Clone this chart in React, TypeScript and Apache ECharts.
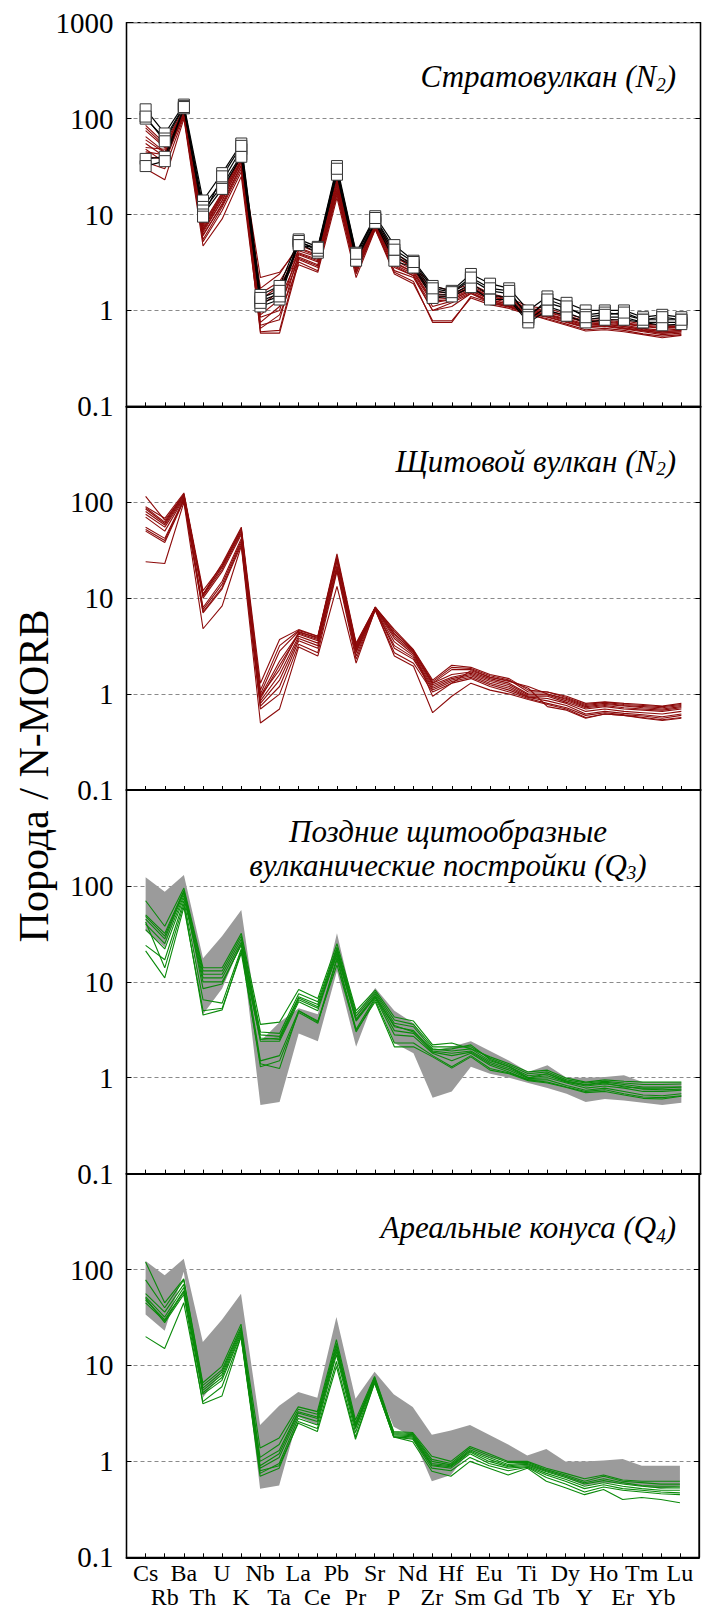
import React, { useEffect, useRef } from 'react';
import * as echarts from 'echarts';

const elements = ['Cs','Rb','Ba','Th','U','K','Nb','Ta','La','Ce','Pb','Pr','Sr','P','Nd','Zr','Hf','Sm','Eu','Gd','Ti','Tb','Dy','Y','Ho','Er','Tm','Yb','Lu'];
const yTickLabels = ['0.1', '1', '10', '100', '1000'];

// Panel 1: stratovolcano (N2) — samples with square markers
const strato1 = [125,70,140,14,27,55,1.45,1.8,5.5,4.6,32,4.0,9.6,4.8,3.3,1.8,1.6,2.4,1.9,1.7,1.0,1.4,1.2,1.0,1.0,1.0,0.85,0.9,0.85];
const strato2 = [100,62,135,12,22,48,1.25,1.5,5.2,4.4,29,3.7,9.0,4.0,3.0,1.6,1.5,2.1,1.6,1.5,0.9,1.2,1.05,0.9,0.95,0.9,0.8,0.8,0.8];
const strato3 = [38,40,130,11,20,42,1.1,1.3,5.0,4.0,27,3.5,8.5,3.7,2.9,1.45,1.45,1.9,1.45,1.35,0.8,1.1,0.95,0.8,0.85,0.85,0.75,0.75,0.75];
const strato4 = [32,36,128,10,18.5,40,1.2,1.4,5.3,4.2,26,3.3,8.2,3.3,2.8,1.35,1.4,1.75,1.3,1.3,0.75,1.0,0.88,0.75,0.8,0.8,0.75,0.7,0.72];
const strato5 = [105,58,132,9.5,25,52,1.35,1.6,4.8,4.5,30,3.9,9.2,4.3,3.2,1.7,1.55,2.2,1.7,1.6,0.85,1.3,1.1,0.85,0.9,0.95,0.8,0.85,0.8];

// Panel 1: stratovolcano (N2) — other samples (red)
const stratoR1 = [85,55,125,8,17,42,1.7,2.4,4.8,4.0,24,3.4,8.4,4.0,2.9,1.8,1.6,1.9,1.5,1.35,1.1,1.05,0.92,0.82,0.82,0.78,0.72,0.7,0.7];
const stratoR2 = [75,50,120,7.5,16,40,2.2,2.5,4.5,3.8,22,3.2,8.0,3.6,2.8,1.6,1.5,1.8,1.45,1.3,1.05,1.0,0.88,0.78,0.8,0.75,0.7,0.68,0.68];
const stratoR3 = [65,45,118,7,15,38,1.5,2.0,4.2,3.6,20,3.0,7.8,3.4,2.6,1.4,1.4,1.7,1.4,1.25,1.0,0.95,0.85,0.75,0.76,0.72,0.68,0.65,0.66];
const stratoR4 = [50,48,115,6.5,14,35,1.3,1.8,4.0,3.4,19,2.9,7.6,3.2,2.5,1.3,1.35,1.65,1.35,1.2,0.98,0.92,0.82,0.72,0.74,0.7,0.65,0.62,0.64];
const stratoR5 = [45,42,110,6,13,33,1.1,1.6,3.8,3.2,18,2.8,7.4,3.0,2.4,1.2,1.3,1.6,1.3,1.15,0.95,0.9,0.8,0.7,0.72,0.68,0.63,0.6,0.62];
const stratoR6 = [40,38,108,5.5,12,30,0.9,1.3,3.6,3.0,17,2.6,7.2,2.8,2.3,1.1,1.25,1.55,1.25,1.1,0.93,0.88,0.78,0.68,0.7,0.66,0.62,0.58,0.6];
const stratoR7 = [35,30,105,5.2,11,28,0.75,1.1,3.4,2.8,16,2.5,7.0,2.6,2.2,1.0,1.2,1.5,1.2,1.08,0.92,0.85,0.75,0.66,0.68,0.64,0.6,0.56,0.58];
const stratoR8 = [30,23,100,4.7,9,25,0.65,0.9,3.0,2.5,15,2.2,7.0,2.4,1.9,0.78,0.78,1.35,1.15,1.05,0.9,0.82,0.72,0.63,0.65,0.62,0.57,0.54,0.56];
const stratoR9 = [48,35,112,6.2,12.5,32,0.58,0.58,3.2,2.6,17.5,2.4,7.3,2.5,2.0,0.75,0.75,1.4,1.2,1.1,0.92,0.8,0.7,0.61,0.63,0.6,0.56,0.52,0.55];
const stratoR10 = [55,40,113,6.8,14,36,0.6,0.62,3.5,2.9,21,2.7,7.6,2.9,2.3,1.0,1.1,1.5,1.25,1.12,0.95,0.86,0.76,0.67,0.69,0.65,0.61,0.58,0.6];
const stratoR11 = [60,44,116,7.2,15.5,37,0.7,0.8,3.9,3.3,22.5,2.9,7.9,3.1,2.5,1.25,1.3,1.6,1.3,1.15,0.97,0.9,0.8,0.7,0.72,0.68,0.64,0.6,0.62];
const stratoR12 = [80,52,122,7.8,16.5,41,0.85,1.0,4.4,3.7,23,3.1,8.2,3.8,2.7,1.5,1.45,1.75,1.4,1.28,1.02,0.97,0.86,0.76,0.78,0.73,0.69,0.66,0.67];

// Panel 2: shield volcano (N2)
const shield1 = [115,65,120,11,23,55,1.3,3.7,4.7,4.0,29,3.4,8.0,4.7,2.9,1.4,2.0,1.9,1.6,1.45,1.1,1.05,0.95,0.8,0.83,0.8,0.78,0.75,0.8];
const shield2 = [90,68,125,12,22,53,1.1,3.2,4.6,4.0,27,3.2,8.1,4.5,2.85,1.35,1.9,1.85,1.55,1.4,1.05,1.05,0.92,0.78,0.82,0.78,0.76,0.74,0.78];
const shield3 = [85,60,118,11,21,50,1.0,2.8,4.5,3.8,26,3.1,8.0,4.2,2.8,1.3,1.8,1.8,1.5,1.35,1.2,1.0,0.9,0.76,0.8,0.76,0.74,0.72,0.76];
const shield4 = [80,58,115,10.5,20,48,0.95,2.2,4.3,3.7,25,3.0,7.9,4.0,2.7,1.3,1.6,1.7,1.45,1.3,1.0,1.0,0.88,0.74,0.78,0.75,0.72,0.7,0.74];
const shield5 = [75,55,112,10,19,46,0.9,2.0,4.2,3.6,24,2.9,7.8,3.8,2.6,1.25,1.5,1.65,1.4,1.25,0.98,0.98,0.85,0.72,0.76,0.72,0.7,0.68,0.72];
const shield6 = [70,50,110,8,15,42,0.85,1.6,4.0,3.4,22,2.8,7.7,3.5,2.5,1.2,1.45,1.6,1.35,1.2,0.95,0.95,0.82,0.7,0.74,0.7,0.68,0.66,0.7];
const shield7 = [55,42,108,7.6,14,40,0.8,1.4,3.8,3.2,21,2.7,7.6,3.2,2.4,1.15,1.4,1.55,1.3,1.15,0.93,0.9,0.8,0.66,0.7,0.66,0.64,0.62,0.66];
const shield8 = [52,40,106,7.2,13,38,0.75,1.2,3.6,3.0,20,2.5,7.6,3.0,2.3,1.1,1.35,1.5,1.25,1.1,0.92,0.85,0.76,0.62,0.66,0.63,0.61,0.58,0.62];
const shield9 = [50,38,104,7,12.5,36,0.7,1.0,3.3,2.7,19,2.3,7.5,2.7,2.1,1.05,1.3,1.45,1.2,1.05,0.9,0.8,0.72,0.6,0.64,0.61,0.59,0.56,0.6];
const shield10 = [24,23,100,4.8,8.3,35,0.5,0.7,3.1,2.5,13.3,2.1,7.6,2.5,1.95,0.64,0.95,1.3,1.1,1.0,0.88,0.78,0.7,0.57,0.62,0.6,0.57,0.54,0.57];
const shield11 = [88,62,122,10.8,21.5,52,0.95,1.8,4.4,3.9,27,3.3,8.0,4.3,2.75,0.95,1.3,1.75,1.5,1.38,1.15,0.74,0.68,0.56,0.62,0.6,0.56,0.53,0.56];

// Grey field (panels 1–2 range) shown in panels 3–4
const fieldUpper = [123,87,130,17.6,30,56,2.4,3.8,5.3,4.6,32,4.5,8.6,5.0,3.7,1.9,2.1,2.4,1.9,1.5,1.15,1.35,1.0,1.0,1.02,1.06,0.9,0.9,0.9];
const fieldLower = [34,23,95,4.6,8.5,25,0.52,0.56,2.9,2.4,13,2.1,7.0,2.3,1.8,0.62,0.72,1.3,1.1,1.0,0.88,0.78,0.68,0.56,0.6,0.58,0.55,0.52,0.55];

// Panel 3: late shield-like edifices (Q3)
const late1 = [70,38,95,14,14,32,3.6,3.8,8.3,6.7,25,5.0,8.2,4.3,3.9,2.2,2.3,2.0,1.65,1.4,1.15,1.2,0.99,0.9,0.95,0.92,0.9,0.9,0.9];
const late2 = [50,32,90,13,13,30,3.0,2.9,7.5,6.2,23,4.7,7.8,4.0,3.6,2.1,2.1,2.1,1.6,1.35,1.1,1.15,0.95,0.88,0.92,0.88,0.85,0.85,0.86];
const late3 = [45,28,85,12,12,28,2.8,2.7,7.0,5.8,22,4.4,7.5,3.7,3.4,2.0,1.9,2.0,1.5,1.3,1.05,1.1,0.92,0.85,0.9,0.85,0.8,0.8,0.8];
const late4 = [40,25,80,11,11,26,2.6,2.5,6.5,5.3,21,4.1,7.2,3.4,3.1,1.9,1.8,1.9,1.45,1.25,1.0,1.05,0.9,0.82,0.86,0.82,0.76,0.75,0.76];
const late5 = [35,22,75,10,10,24,2.4,2.4,6.2,5.0,20,3.9,7.0,3.1,2.9,1.85,1.7,1.85,1.4,1.2,0.98,1.0,0.88,0.78,0.82,0.78,0.72,0.72,0.74];
const late6 = [48,30,88,8.5,9.5,25,1.5,1.7,5.0,3.8,18,3.2,6.8,2.8,2.7,1.8,1.5,1.8,1.35,1.15,0.95,0.95,0.83,0.74,0.78,0.72,0.66,0.65,0.68];
const late7 = [24,17,70,6.5,6.0,22,1.3,1.5,4.8,3.7,17,3.0,6.5,2.3,2.3,1.7,1.3,1.7,1.25,1.12,0.95,0.9,0.8,0.72,0.75,0.68,0.63,0.62,0.65];
const late8 = [21,11,60,5.0,5.3,20,1.4,1.25,5.0,3.9,15,3.1,6.2,2.1,2.1,1.65,1.26,1.65,1.2,1.1,0.93,0.88,0.79,0.7,0.72,0.66,0.61,0.6,0.64];
const late9 = [42,14,65,4.5,5.1,21,2.5,2.6,6.8,5.5,19,4.0,7.0,3.5,3.0,1.95,2.0,2.2,1.55,1.3,1.0,1.1,0.92,0.84,0.88,0.8,0.78,0.78,0.8];

// Panel 4: areal cones (Q4)
const cone1 = [120,45,80,6.6,9.8,27,1.38,1.75,3.7,3.3,18.6,2.7,7.7,2.05,2.0,1.13,1.0,1.43,1.2,1.0,1.0,0.85,0.75,0.66,0.72,0.64,0.62,0.62,0.62];
const cone2 = [78,40,78,6.2,9.0,25,1.1,1.5,3.5,3.1,17,2.5,7.5,2.0,1.95,1.05,0.95,1.38,1.15,0.97,0.98,0.82,0.72,0.62,0.7,0.62,0.6,0.58,0.58];
const cone3 = [56,36,70,5.8,8.5,24,1.0,1.3,3.3,2.9,16,2.4,7.3,1.95,1.9,1.0,0.92,1.32,1.1,0.93,0.95,0.8,0.7,0.6,0.66,0.6,0.56,0.55,0.55];
const cone4 = [52,32,65,5.5,8.0,23,0.9,1.2,3.2,2.8,15,2.3,7.2,1.9,1.85,0.95,0.9,1.28,1.05,0.9,0.93,0.78,0.68,0.58,0.63,0.58,0.55,0.53,0.53];
const cone5 = [48,30,60,5.2,7.5,22,0.85,1.1,3.0,2.6,14,2.2,7.0,1.85,1.8,0.92,0.88,1.25,1.0,0.88,0.9,0.75,0.65,0.55,0.6,0.55,0.52,0.5,0.5];
const cone6 = [45,29,58,5.0,7.0,21,0.75,0.95,2.8,2.4,13,2.0,6.8,1.8,1.75,0.9,0.85,1.2,0.95,0.85,0.88,0.72,0.62,0.52,0.57,0.52,0.5,0.48,0.47];
const cone7 = [50,28,55,4.0,4.8,20,0.7,0.85,2.6,2.2,11,1.8,6.6,1.8,1.7,0.85,0.8,1.1,0.9,0.8,0.87,0.68,0.58,0.48,0.54,0.5,0.48,0.46,0.45];
const cone8 = [20,15,45,4.2,6.0,20,0.8,0.9,2.5,2.05,9.8,1.7,6.6,1.8,1.6,0.79,0.7,1.0,0.85,0.72,0.85,0.62,0.53,0.45,0.51,0.4,0.42,0.4,0.37];

const stratoMarked = [strato1, strato2, strato3, strato4, strato5];
const stratoRed = [stratoR1, stratoR2, stratoR3, stratoR4, stratoR5, stratoR6, stratoR7, stratoR8, stratoR9, stratoR10, stratoR11, stratoR12];
const shieldRed = [shield1, shield2, shield3, shield4, shield5, shield6, shield7, shield8, shield9, shield10, shield11];
const lateGreen = [late1, late2, late3, late4, late5, late6, late7, late8, late9];
const coneGreen = [cone1, cone2, cone3, cone4, cone5, cone6, cone7, cone8];

const SERIF = 'Times New Roman';
const RED = '#8c0a0a';
const GREEN = '#0a8a0a';
const GREY = '#9b9b9b';

const PANEL_TOP = 22.7;
const PANEL_H = 383.65;
const GRID_LEFT = 126.5;
const GRID_W = 574;

function toPairs(vals: number[]) {
  return vals.map((v, i) => [i, v]);
}

function lineSeries(vals: number[], k: number, color: string, z: number) {
  return {
    type: 'line',
    xAxisIndex: k,
    yAxisIndex: k,
    data: toPairs(vals),
    symbol: 'none',
    silent: true,
    z,
    lineStyle: { color, width: 1.1 },
  };
}

function markedSeries(vals: number[], k: number) {
  return {
    type: 'line',
    xAxisIndex: k,
    yAxisIndex: k,
    data: toPairs(vals),
    symbol: 'rect',
    symbolSize: [11, 11],
    showAllSymbol: true,
    silent: true,
    z: 5,
    lineStyle: { color: '#000', width: 1.2 },
    itemStyle: { color: '#fff', borderColor: '#333', borderWidth: 1 },
  };
}

function fieldSeries(k: number) {
  return {
    type: 'custom',
    xAxisIndex: k,
    yAxisIndex: k,
    data: [[0, 1]],
    silent: true,
    z: 1,
    renderItem: (_params: any, api: any) => {
      const pts: number[][] = [];
      fieldUpper.forEach((v, i) => pts.push(api.coord([i, v])));
      for (let i = fieldLower.length - 1; i >= 0; i--) pts.push(api.coord([i, fieldLower[i]]));
      return { type: 'polygon', shape: { points: pts }, style: { fill: GREY } };
    },
  };
}

function buildOption() {
  const grids: any[] = [];
  const xAxes: any[] = [];
  const yAxes: any[] = [];
  for (let k = 0; k < 4; k++) {
    grids.push({
      left: GRID_LEFT,
      width: GRID_W,
      top: PANEL_TOP + k * PANEL_H,
      height: PANEL_H,
      show: true,
      borderColor: '#000',
      borderWidth: 1.3,
      backgroundColor: 'transparent',
    });
    xAxes.push({
      type: 'value',
      gridIndex: k,
      min: -1,
      max: 29,
      interval: 1,
      position: 'bottom',
      axisLine: { show: true, onZero: false, lineStyle: { color: '#000', width: 2 } },
      axisTick: { show: true, inside: true, length: 4, lineStyle: { color: '#000', width: 1 } },
      splitLine: { show: false },
      axisLabel: {
        show: k === 3,
        margin: 4,
        fontFamily: SERIF,
        fontSize: 24,
        color: '#000',
        formatter: (v: number) => {
          const i = Math.round(v);
          return i >= 0 && i < elements.length && i % 2 === 0 ? elements[i] : '';
        },
      },
    });
  }
  // second row of element labels
  xAxes.push({
    type: 'value',
    gridIndex: 3,
    min: -1,
    max: 29,
    interval: 1,
    position: 'bottom',
    offset: 24,
    axisLine: { show: false, onZero: false },
    axisTick: { show: false },
    splitLine: { show: false },
    axisLabel: {
      show: true,
      margin: 4,
      fontFamily: SERIF,
      fontSize: 24,
      color: '#000',
      formatter: (v: number) => {
        const i = Math.round(v);
        return i >= 0 && i < elements.length && i % 2 === 1 ? elements[i] : '';
      },
    },
  });
  for (let k = 0; k < 4; k++) {
    yAxes.push({
      type: 'log',
      logBase: 10,
      gridIndex: k,
      min: 0.1,
      max: 1000,
      position: 'left',
      axisLine: { show: true, onZero: false, lineStyle: { color: '#000', width: 1.3 } },
      axisTick: { show: true, inside: true, length: 5, lineStyle: { color: '#000' } },
      minorTick: { show: false },
      splitLine: { show: true, lineStyle: { type: [4, 3], color: '#8a8a8a', width: 1 } },
      axisLabel: {
        margin: 13,
        fontFamily: SERIF,
        fontSize: 29,
        color: '#000',
        formatter: (v: number) => {
          const idx = Math.round(Math.log10(v)) + 1;
          if (k > 0 && idx === 4) return '';
          return yTickLabels[idx] ?? '';
        },
      },
    });
  }
  for (let k = 0; k < 4; k++) {
    yAxes.push({
      type: 'log',
      logBase: 10,
      gridIndex: k,
      min: 0.1,
      max: 1000,
      position: 'right',
      axisLine: { show: true, onZero: false, lineStyle: { color: '#000', width: 1.3 } },
      axisTick: { show: true, inside: true, length: 5, lineStyle: { color: '#000' } },
      splitLine: { show: false },
      axisLabel: { show: false },
    });
  }

  const series: any[] = [];
  stratoRed.forEach((s) => series.push(lineSeries(s, 0, RED, 3)));
  stratoMarked.forEach((s) => series.push(markedSeries(s, 0)));
  shieldRed.forEach((s) => series.push(lineSeries(s, 1, RED, 3)));
  series.push(fieldSeries(2));
  lateGreen.forEach((s) => series.push(lineSeries(s, 2, GREEN, 3)));
  series.push(fieldSeries(3));
  coneGreen.forEach((s) => series.push(lineSeries(s, 3, GREEN, 3)));

  const titleRich = (size: number) => ({
    t: { fontSize: size, fontStyle: 'italic', fontFamily: SERIF, lineHeight: 34, fill: '#000' },
    s: { fontSize: 19, fontStyle: 'italic', fontFamily: SERIF, lineHeight: 20, verticalAlign: 'bottom', fill: '#000' },
  });

  const graphic: any[] = [
    {
      type: 'text',
      x: 676,
      y: PANEL_TOP + 54,
      style: { text: '{t|Стратовулкан (N}{s|2}{t|)}', rich: titleRich(31), fontFamily: SERIF, align: 'right', verticalAlign: 'middle' },
    },
    {
      type: 'text',
      x: 676,
      y: PANEL_TOP + PANEL_H + 55,
      style: { text: '{t|Щитовой вулкан (N}{s|2}{t|)}', rich: titleRich(31), fontFamily: SERIF, align: 'right', verticalAlign: 'middle' },
    },
    {
      type: 'text',
      x: 448,
      y: PANEL_TOP + 2 * PANEL_H + 58,
      style: {
        text: '{t|Поздние щитообразные}\n{t|вулканические постройки (Q}{s|3}{t|)}',
        rich: titleRich(31),
        fontFamily: SERIF,
        align: 'center',
        verticalAlign: 'middle',
      },
    },
    {
      type: 'text',
      x: 676,
      y: PANEL_TOP + 3 * PANEL_H + 54,
      style: { text: '{t|Ареальные конуса (Q}{s|4}{t|)}', rich: titleRich(31), fontFamily: SERIF, align: 'right', verticalAlign: 'middle' },
    },
    {
      type: 'text',
      x: 34,
      y: 776,
      rotation: Math.PI / 2,
      style: {
        text: 'Порода / N-MORB',
        fontFamily: SERIF,
        fontSize: 42,
        fill: '#000',
        align: 'center',
        verticalAlign: 'middle',
      },
    },
  ];

  return {
    animation: false,
    backgroundColor: '#fff',
    textStyle: { fontFamily: SERIF },
    grid: grids,
    xAxis: xAxes,
    yAxis: yAxes,
    series,
    graphic,
  };
}

export default function App() {
  const ref = useRef<HTMLDivElement>(null);
  useEffect(() => {
    document.body.style.margin = '0';
    const chart = echarts.init(ref.current as HTMLDivElement, null, { renderer: 'svg' });
    chart.setOption(buildOption() as any);
    return () => chart.dispose();
  }, []);
  return <div ref={ref} style={{ position: 'absolute', left: 0, top: 0, width: 702, height: 1611 }} />;
}
